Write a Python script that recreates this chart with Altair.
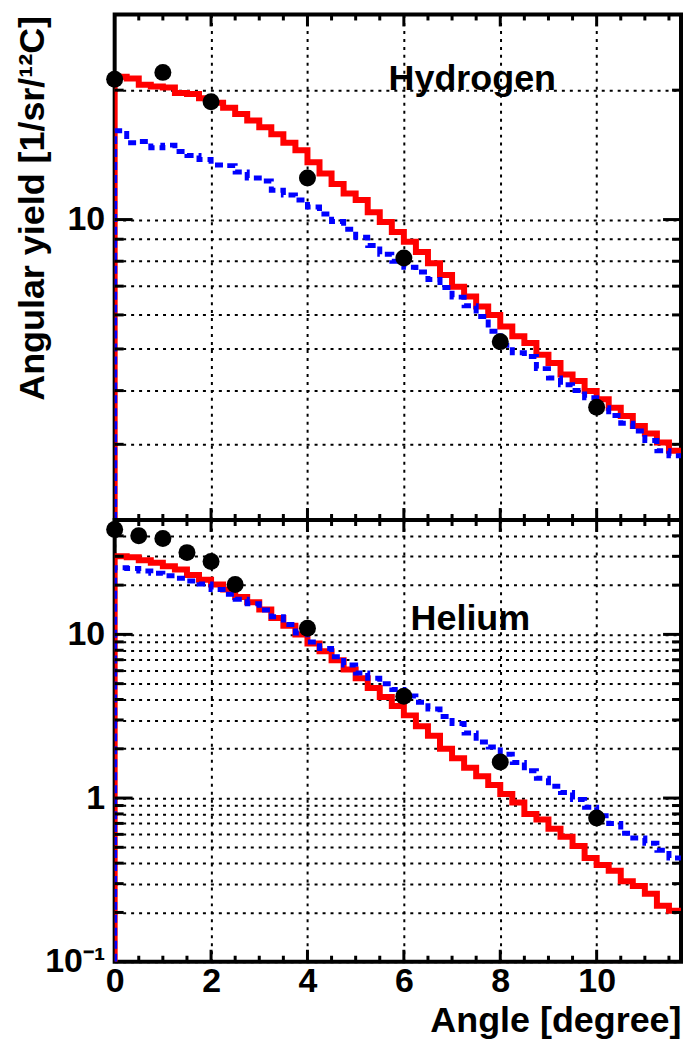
import math
import altair as alt
import pandas as pd

FONT = "Liberation Sans"

# ---------------- data ----------------
angle_edges = [0.0, 0.25, 0.5, 0.75, 1.0, 1.25, 1.5, 1.75, 2.0, 2.25, 2.5, 2.75,
               3.0, 3.25, 3.5, 3.75, 4.0, 4.25, 4.5, 4.75, 5.0, 5.25, 5.5, 5.75,
               6.0, 6.25, 6.5, 6.75, 7.0, 7.25, 7.5, 7.75, 8.0, 8.25, 8.5, 8.75,
               9.0, 9.25, 9.5, 9.75, 10.0, 10.25, 10.5, 10.75, 11.0, 11.25, 11.5]
angle_end = 11.75

h_red = [21.5, 21.3, 20.6, 20.4, 20.3, 19.7, 19.6, 19.15, 18.7, 18.2, 17.6, 17.0,
         16.4, 15.8, 15.1, 14.5, 13.6, 12.8, 12.1, 11.5, 11.1, 10.4, 9.87, 9.36,
         8.88, 8.41, 7.91, 7.43, 6.98, 6.62, 6.28, 6.0, 5.64, 5.35, 5.16, 4.85,
         4.64, 4.36, 4.21, 3.99, 3.82, 3.65, 3.49, 3.31, 3.18, 3.03, 2.90]
h_blue = [16.1, 15.1, 15.2, 14.7, 14.9, 14.4, 14.1, 13.8, 13.4, 13.35, 12.9, 12.5,
          12.3, 11.7, 11.4, 11.1, 10.7, 10.3, 9.9, 9.5, 9.1, 8.7, 8.3, 8.0,
          7.75, 7.55, 7.25, 6.95, 6.6, 6.3, 5.95, 5.5, 5.1, 4.9, 4.8, 4.5,
          4.28, 4.13, 4.0, 3.85, 3.65, 3.5, 3.36, 3.22, 3.06, 2.9, 2.82]
he_red = [30.0, 29.6, 28.4, 27.4, 26.1, 24.9, 23.1, 21.6, 20.2, 18.8, 16.9, 15.7,
          14.2, 12.6, 11.3, 10.0, 8.8, 7.9, 6.95, 6.1, 5.4, 4.7, 4.15, 3.65,
          3.2, 2.75, 2.4, 2.0, 1.75, 1.53, 1.36, 1.2, 1.06, 0.94, 0.80, 0.74,
          0.65, 0.58, 0.51, 0.43, 0.39, 0.36, 0.31, 0.29, 0.26, 0.22, 0.205]
he_blue = [25.5, 25.3, 24.4, 23.6, 22.8, 22.0, 21.2, 20.3, 18.8, 17.6, 16.4, 15.4,
           14.1, 12.8, 11.5, 10.2, 9.0, 8.2, 7.3, 6.5, 5.8, 5.4, 5.0, 4.6,
           4.2, 3.85, 3.5, 3.15, 2.85, 2.5, 2.2, 2.05, 1.85, 1.65, 1.47, 1.32,
           1.18, 1.08, 0.98, 0.88, 0.78, 0.70, 0.61, 0.57, 0.53, 0.48, 0.43]

h_pts_x = [0, 1, 2, 4, 6, 8, 10]
h_pts_y = [21.2, 22.0, 18.8, 12.5, 8.14, 5.2, 3.66]
he_pts_x = [0, 0.5, 1, 1.5, 2, 2.5, 4, 6, 8, 10]
he_pts_y = [43.7, 40.0, 38.5, 31.6, 27.9, 20.2, 10.9, 4.19, 1.66, 0.755]

x_label_vals = [0, 2, 4, 6, 8, 10]
x_major = [2, 4, 6, 8, 10]
x_minor = [0.5, 1, 1.5, 2.5, 3, 3.5, 4.5, 5, 5.5, 6.5, 7, 7.5, 8.5, 9, 9.5,
           10.5, 11, 11.5]

top_domain = [2, 30]
top_major = [10]
top_minor = [3, 4, 5, 6, 7, 8, 9, 20]
bot_domain = [0.1, 50]
bot_major = [1, 10]
bot_minor = [0.2, 0.3, 0.4, 0.5, 0.6, 0.7, 0.8, 0.9, 2, 3, 4, 5, 6, 7, 8, 9,
             20, 30, 40]

W = 568
H_TOP = 507
H_BOT = 443
FS_T = 36   # titles / panel labels
FS_L = 34   # tick labels
PX_PER_DEG = W / angle_end

lab = dict(labelFont=FONT, labelFontSize=FS_L, labelFontWeight="bold",
           labelColor="black")
ttl = dict(titleFont=FONT, titleFontSize=FS_T, titleFontWeight="bold",
           titleColor="black")
grd = dict(grid=True, gridColor="black", gridDash=[3, 5], gridWidth=2,
           gridOpacity=1)


def hist_frame(vals, ymin):
    rows = [{"angle": 0.0, "y": ymin, "i": 0}]
    for k, (e, v) in enumerate(zip(angle_edges, vals)):
        rows.append({"angle": e, "y": v, "i": k + 1})
    rows.append({"angle": angle_end, "y": vals[-1], "i": len(vals) + 1})
    return pd.DataFrame(rows)


def tick_frame(dom, h, major, minor):
    """Inward ROOT-style ticks on all four sides as thin filled rectangles."""
    px_per_dec = h / math.log10(dom[1] / dom[0])
    half_y = 10 ** (1.5 / px_per_dec)
    half_x = 1.5 / PX_PER_DEG
    rows = []
    for vals, L in ((major, 18), (minor, 9)):
        d = L / PX_PER_DEG
        for v in vals:
            for x0, x1 in ((0.0, d), (angle_end - d, angle_end)):
                rows.append({"xa": x0, "xb": x1, "ya": v / half_y, "yb": v * half_y})
    for vals, L in ((x_major, 12), (x_minor, 6)):
        f = 10 ** (L / px_per_dec)
        for a in vals:
            for y0, y1 in ((dom[1] / f, dom[1]), (dom[0], dom[0] * f)):
                rows.append({"xa": a - half_x, "xb": a + half_x, "ya": y0, "yb": y1})
    return pd.DataFrame(rows)


def panel(red, blue, px, py, dom, h, major, minor, text, tx, ty, bottom):
    xs = alt.Scale(domain=[0, angle_end], nice=False, zero=False)
    ys = alt.Scale(type="log", domain=dom, nice=False)
    pts = pd.DataFrame({"angle": px, "y": py})
    base = alt.Chart(pts)

    xkw = dict(orient="bottom", ticks=False, domain=False, labelFlush=False,
               labelOverlap=False, **grd)
    if bottom:
        xkw.update(values=x_label_vals, labels=True, labelPadding=3,
                   title="Angle [degree]", titleX=W, titleY=70,
                   titleAlign="right", titleBaseline="alphabetic",
                   **lab, **ttl)
    else:
        xkw.update(values=x_major, labels=False, title="")
    ykw = dict(orient="left", values=sorted(dom[:1] + major + minor),
               ticks=False, domain=False, labelOverlap=False, labelPadding=10,
               labelExpr=("datum.value == 10 ? '10' : datum.value == 1 ? '1' : "
                          "(datum.value > 0.09 && datum.value < 0.11) ? '10\u207b\u00b9' : ''"),
               **grd, **lab)
    if not bottom:
        ykw.update(title="Angular yield [1/sr/\u00b9\u00b2C]", titleAngle=270,
                   titleX=-71, titleY=1, titleAlign="right",
                   titleBaseline="alphabetic", **ttl)
    else:
        ykw.update(title="")
    X = lambda: alt.X("angle:Q", scale=xs)
    Y = lambda: alt.Y("y:Q", scale=ys)

    main = base.mark_point(opacity=0, size=1).encode(
        x=alt.X("angle:Q", scale=xs, axis=alt.Axis(**xkw)),
        y=alt.Y("y:Q", scale=ys, axis=alt.Axis(**ykw)),
    )

    ticks = alt.Chart(tick_frame(dom, h, major, minor)).mark_rect(
        color="black", opacity=1).encode(
        x=alt.X("xa:Q", scale=xs), x2="xb:Q",
        y=alt.Y("ya:Q", scale=ys), y2="yb:Q")

    def line(vals, color, width, dash=None):
        kw = dict(color=color, strokeWidth=width, interpolate="step-after",
                  clip=True)
        if dash:
            kw.update(strokeDash=dash, strokeCap="butt")
        return alt.Chart(hist_frame(vals, dom[0])).mark_line(**kw).encode(
            x=X(), y=Y(), order="i:Q")

    red_l = line(red, "#ff0000", 6)
    blue_l = line(blue, "#0000ff", 5, [8, 5])
    dots = base.mark_circle(color="black", opacity=1, size=290).encode(
        x=X(), y=Y())
    lbl = alt.Chart(pd.DataFrame({"angle": [tx], "y": [ty], "t": [text]})).mark_text(
        font=FONT, fontSize=FS_T, fontWeight="bold", color="black",
        align="center", baseline="alphabetic").encode(
        x=X(), y=Y(), text="t:N")
    return alt.layer(main, red_l, blue_l, dots, lbl, ticks).properties(
        width=W, height=h)


top = panel(h_red, h_blue, h_pts_x, h_pts_y, top_domain, H_TOP, top_major,
            top_minor, "Hydrogen", 7.42, 20, False)
bot = panel(he_red, he_blue, he_pts_x, he_pts_y, bot_domain, H_BOT, bot_major,
            bot_minor, "Helium", 7.38, 10.6, True)

chart = alt.vconcat(top, bot, spacing=0, bounds="flush").properties(
    padding={"left": 13, "top": 11, "right": 0, "bottom": 0},
    background="white",
).configure_view(stroke="black", strokeWidth=4)

chart.save("out.html", embed_options={"renderer": "svg", "actions": False})
